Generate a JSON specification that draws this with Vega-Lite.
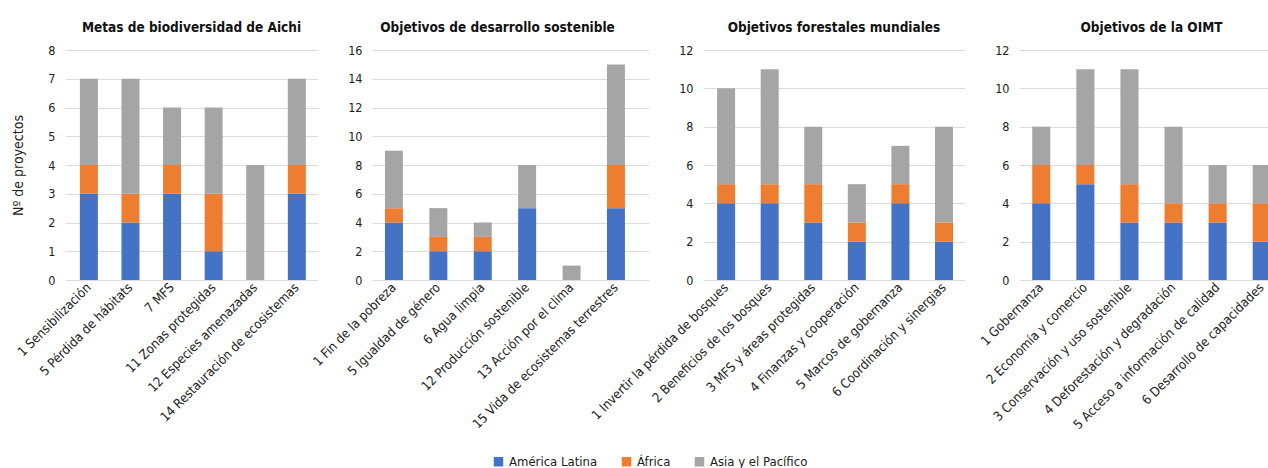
{
  "$schema": "https://vega.github.io/schema/vega-lite/v6.json",
  "padding": {"left": 11, "top": 20, "right": 0, "bottom": 2},
  "bounds": "flush",
  "spacing": 54,
  "config": {
    "font": "DejaVu Sans Condensed",
    "view": {"stroke": null},
    "title": {"fontSize": 13.5, "fontWeight": "bold", "color": "#111", "offset": 10},
    "axis": {"labelFontSize": 12.5, "labelColor": "#222", "domain": false, "ticks": false, "gridColor": "#dcdcdc", "labelPadding": 10, "labelLimit": 400},
    "axisX": {"labelAngle": -45, "labelAlign": "right", "labelBaseline": "middle", "labelPadding": 5, "grid": false, "labelFontSize": 13},
    "legend": {"labelFontSize": 13, "labelColor": "#222"}
  },
  "datasets": {
    "aichi": [
      {"objetivo": "1 Sensibilización", "region": "América Latina", "orden": 1, "n": 3},
      {"objetivo": "1 Sensibilización", "region": "África", "orden": 2, "n": 1},
      {"objetivo": "1 Sensibilización", "region": "Asia y el Pacífico", "orden": 3, "n": 3},
      {"objetivo": "5 Pérdida de hábitats", "region": "América Latina", "orden": 1, "n": 2},
      {"objetivo": "5 Pérdida de hábitats", "region": "África", "orden": 2, "n": 1},
      {"objetivo": "5 Pérdida de hábitats", "region": "Asia y el Pacífico", "orden": 3, "n": 4},
      {"objetivo": "7 MFS", "region": "América Latina", "orden": 1, "n": 3},
      {"objetivo": "7 MFS", "region": "África", "orden": 2, "n": 1},
      {"objetivo": "7 MFS", "region": "Asia y el Pacífico", "orden": 3, "n": 2},
      {"objetivo": "11 Zonas protegidas", "region": "América Latina", "orden": 1, "n": 1},
      {"objetivo": "11 Zonas protegidas", "region": "África", "orden": 2, "n": 2},
      {"objetivo": "11 Zonas protegidas", "region": "Asia y el Pacífico", "orden": 3, "n": 3},
      {"objetivo": "12 Especies amenazadas", "region": "América Latina", "orden": 1, "n": 0},
      {"objetivo": "12 Especies amenazadas", "region": "África", "orden": 2, "n": 0},
      {"objetivo": "12 Especies amenazadas", "region": "Asia y el Pacífico", "orden": 3, "n": 4},
      {"objetivo": "14 Restauración de ecosistemas", "region": "América Latina", "orden": 1, "n": 3},
      {"objetivo": "14 Restauración de ecosistemas", "region": "África", "orden": 2, "n": 1},
      {"objetivo": "14 Restauración de ecosistemas", "region": "Asia y el Pacífico", "orden": 3, "n": 3}
    ],
    "ods": [
      {"objetivo": "1 Fin de la pobreza", "region": "América Latina", "orden": 1, "n": 4},
      {"objetivo": "1 Fin de la pobreza", "region": "África", "orden": 2, "n": 1},
      {"objetivo": "1 Fin de la pobreza", "region": "Asia y el Pacífico", "orden": 3, "n": 4},
      {"objetivo": "5 Igualdad de género", "region": "América Latina", "orden": 1, "n": 2},
      {"objetivo": "5 Igualdad de género", "region": "África", "orden": 2, "n": 1},
      {"objetivo": "5 Igualdad de género", "region": "Asia y el Pacífico", "orden": 3, "n": 2},
      {"objetivo": "6 Agua limpia", "region": "América Latina", "orden": 1, "n": 2},
      {"objetivo": "6 Agua limpia", "region": "África", "orden": 2, "n": 1},
      {"objetivo": "6 Agua limpia", "region": "Asia y el Pacífico", "orden": 3, "n": 1},
      {"objetivo": "12 Producción sostenible", "region": "América Latina", "orden": 1, "n": 5},
      {"objetivo": "12 Producción sostenible", "region": "África", "orden": 2, "n": 0},
      {"objetivo": "12 Producción sostenible", "region": "Asia y el Pacífico", "orden": 3, "n": 3},
      {"objetivo": "13 Acción por el clima", "region": "América Latina", "orden": 1, "n": 0},
      {"objetivo": "13 Acción por el clima", "region": "África", "orden": 2, "n": 0},
      {"objetivo": "13 Acción por el clima", "region": "Asia y el Pacífico", "orden": 3, "n": 1},
      {"objetivo": "15 Vida de ecosistemas terrestres", "region": "América Latina", "orden": 1, "n": 5},
      {"objetivo": "15 Vida de ecosistemas terrestres", "region": "África", "orden": 2, "n": 3},
      {"objetivo": "15 Vida de ecosistemas terrestres", "region": "Asia y el Pacífico", "orden": 3, "n": 7}
    ],
    "ofm": [
      {"objetivo": "1 Invertir la pérdida de bosques", "region": "América Latina", "orden": 1, "n": 4},
      {"objetivo": "1 Invertir la pérdida de bosques", "region": "África", "orden": 2, "n": 1},
      {"objetivo": "1 Invertir la pérdida de bosques", "region": "Asia y el Pacífico", "orden": 3, "n": 5},
      {"objetivo": "2 Beneficios de los bosques", "region": "América Latina", "orden": 1, "n": 4},
      {"objetivo": "2 Beneficios de los bosques", "region": "África", "orden": 2, "n": 1},
      {"objetivo": "2 Beneficios de los bosques", "region": "Asia y el Pacífico", "orden": 3, "n": 6},
      {"objetivo": "3 MFS y áreas protegidas", "region": "América Latina", "orden": 1, "n": 3},
      {"objetivo": "3 MFS y áreas protegidas", "region": "África", "orden": 2, "n": 2},
      {"objetivo": "3 MFS y áreas protegidas", "region": "Asia y el Pacífico", "orden": 3, "n": 3},
      {"objetivo": "4 Finanzas y cooperación", "region": "América Latina", "orden": 1, "n": 2},
      {"objetivo": "4 Finanzas y cooperación", "region": "África", "orden": 2, "n": 1},
      {"objetivo": "4 Finanzas y cooperación", "region": "Asia y el Pacífico", "orden": 3, "n": 2},
      {"objetivo": "5 Marcos de gobernanza", "region": "América Latina", "orden": 1, "n": 4},
      {"objetivo": "5 Marcos de gobernanza", "region": "África", "orden": 2, "n": 1},
      {"objetivo": "5 Marcos de gobernanza", "region": "Asia y el Pacífico", "orden": 3, "n": 2},
      {"objetivo": "6 Coordinación y sinergias", "region": "América Latina", "orden": 1, "n": 2},
      {"objetivo": "6 Coordinación y sinergias", "region": "África", "orden": 2, "n": 1},
      {"objetivo": "6 Coordinación y sinergias", "region": "Asia y el Pacífico", "orden": 3, "n": 5}
    ],
    "oimt": [
      {"objetivo": "1 Gobernanza", "region": "América Latina", "orden": 1, "n": 4},
      {"objetivo": "1 Gobernanza", "region": "África", "orden": 2, "n": 2},
      {"objetivo": "1 Gobernanza", "region": "Asia y el Pacífico", "orden": 3, "n": 2},
      {"objetivo": "2 Economía y comercio", "region": "América Latina", "orden": 1, "n": 5},
      {"objetivo": "2 Economía y comercio", "region": "África", "orden": 2, "n": 1},
      {"objetivo": "2 Economía y comercio", "region": "Asia y el Pacífico", "orden": 3, "n": 5},
      {"objetivo": "3 Conservación y uso sostenible", "region": "América Latina", "orden": 1, "n": 3},
      {"objetivo": "3 Conservación y uso sostenible", "region": "África", "orden": 2, "n": 2},
      {"objetivo": "3 Conservación y uso sostenible", "region": "Asia y el Pacífico", "orden": 3, "n": 6},
      {"objetivo": "4 Deforestación y degradación", "region": "América Latina", "orden": 1, "n": 3},
      {"objetivo": "4 Deforestación y degradación", "region": "África", "orden": 2, "n": 1},
      {"objetivo": "4 Deforestación y degradación", "region": "Asia y el Pacífico", "orden": 3, "n": 4},
      {"objetivo": "5 Acceso a información de calidad", "region": "América Latina", "orden": 1, "n": 3},
      {"objetivo": "5 Acceso a información de calidad", "region": "África", "orden": 2, "n": 1},
      {"objetivo": "5 Acceso a información de calidad", "region": "Asia y el Pacífico", "orden": 3, "n": 2},
      {"objetivo": "6 Desarrollo de capacidades", "region": "América Latina", "orden": 1, "n": 2},
      {"objetivo": "6 Desarrollo de capacidades", "region": "África", "orden": 2, "n": 2},
      {"objetivo": "6 Desarrollo de capacidades", "region": "Asia y el Pacífico", "orden": 3, "n": 2}
    ]
  },
  "hconcat": [
    {
      "title": "Metas de biodiversidad de Aichi",
      "width": 253, "height": 230,
      "data": {"name": "aichi"},
      "mark": {"type": "bar"},
      "encoding": {
        "x": {"field": "objetivo", "type": "nominal", "sort": null, "scale": {"paddingInner": 0.567, "paddingOuter": 0.325, "align": 0.55}, "axis": {"title": null}},
        "y": {"field": "n", "type": "quantitative", "stack": "zero", "scale": {"domain": [0, 8]}, "axis": {"title": "Nº de proyectos", "titleFontSize": 14, "titleFontWeight": "normal", "titleColor": "#222", "tickCount": 8, "titlePadding": 22}},
        "color": {"field": "region", "type": "nominal", "scale": {"domain": ["América Latina", "África", "Asia y el Pacífico"], "range": ["#4472C4", "#ED7D31", "#A5A5A5"]}, "legend": {"title": null, "orient": "none", "legendX": 427, "legendY": 405, "direction": "horizontal", "symbolType": "square", "symbolSize": 90, "columnPadding": 22}},
        "order": {"field": "orden", "type": "quantitative"}
      }
    },
    {
      "title": {"text": "Objetivos de desarrollo sostenible", "anchor": "middle", "dx": -13},
      "width": 277, "height": 230,
      "data": {"name": "ods"},
      "mark": {"type": "bar"},
      "encoding": {
        "x": {"field": "objetivo", "type": "nominal", "sort": null, "scale": {"paddingInner": 0.595, "paddingOuter": 0.417, "align": 0.35}, "axis": {"title": null}},
        "y": {"field": "n", "type": "quantitative", "stack": "zero", "scale": {"domain": [0, 16]}, "axis": {"title": null, "tickCount": 8}},
        "color": {"field": "region", "type": "nominal"},
        "order": {"field": "orden", "type": "quantitative"}
      }
    },
    {
      "title": "Objetivos forestales mundiales",
      "width": 262, "height": 230,
      "data": {"name": "ofm"},
      "mark": {"type": "bar"},
      "encoding": {
        "x": {"field": "objetivo", "type": "nominal", "sort": null, "scale": {"paddingInner": 0.587, "paddingOuter": 0.3, "align": 0.54}, "axis": {"title": null}},
        "y": {"field": "n", "type": "quantitative", "stack": "zero", "scale": {"domain": [0, 12]}, "axis": {"title": null, "tickCount": 6}},
        "color": {"field": "region", "type": "nominal"},
        "order": {"field": "orden", "type": "quantitative"}
      }
    },
    {
      "title": "Objetivos de la OIMT",
      "width": 265, "height": 230,
      "data": {"name": "oimt"},
      "mark": {"type": "bar"},
      "encoding": {
        "x": {"field": "objetivo", "type": "nominal", "sort": null, "scale": {"paddingInner": 0.59, "paddingOuter": 0.3, "align": 0.5}, "axis": {"title": null}},
        "y": {"field": "n", "type": "quantitative", "stack": "zero", "scale": {"domain": [0, 12]}, "axis": {"title": null, "tickCount": 6}},
        "color": {"field": "region", "type": "nominal"},
        "order": {"field": "orden", "type": "quantitative"}
      }
    }
  ],
  "resolve": {"scale": {"color": "shared"}}
}
